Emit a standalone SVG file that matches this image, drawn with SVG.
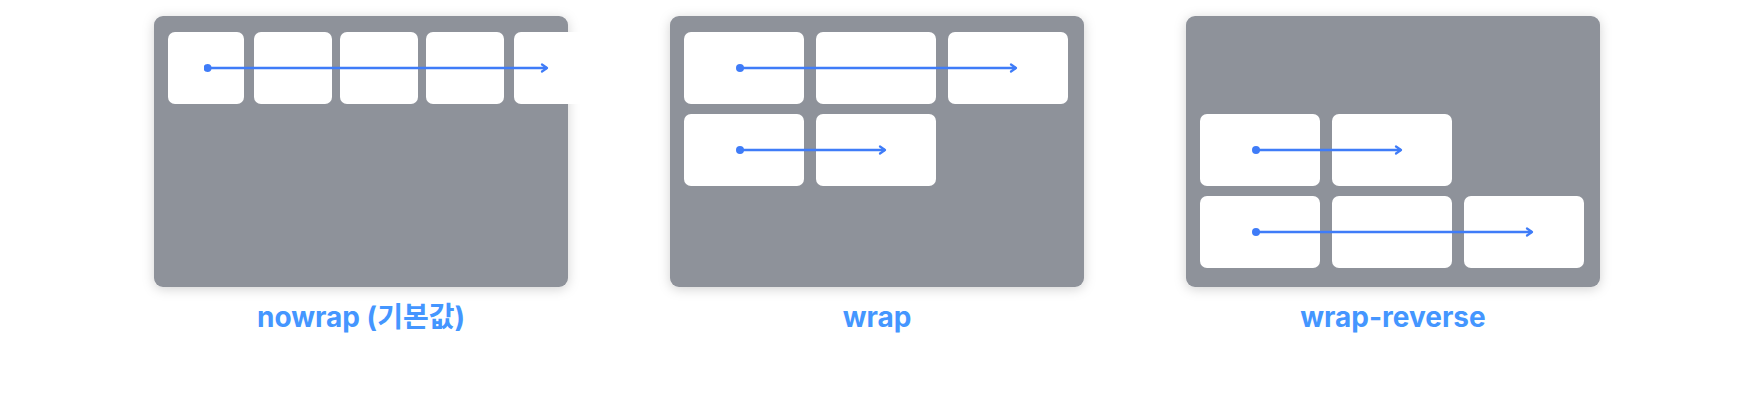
<svg xmlns="http://www.w3.org/2000/svg" width="1752" height="406" viewBox="0 0 1752 406">
<defs>
<filter id="sh" x="-10%" y="-10%" width="120%" height="125%">
<feDropShadow dx="0" dy="2" stdDeviation="6" flood-color="#000" flood-opacity="0.18"/>
</filter>
<marker id="ah" viewBox="0 0 10 10" refX="8" refY="5" markerWidth="10" markerHeight="10" markerUnits="userSpaceOnUse" orient="auto">
<path d="M3,1.5 L8,5 L3,8.5" fill="none" stroke="#3F7CF8" stroke-width="2.2" stroke-linecap="round" stroke-linejoin="round"/>
</marker>
<marker id="dot" viewBox="0 0 10 10" refX="5" refY="5" markerWidth="8" markerHeight="8" markerUnits="userSpaceOnUse">
<circle cx="5" cy="5" r="5" fill="#3F7CF8"/>
</marker>
</defs>
<style>
.box{fill:#8E929A;filter:url(#sh)}
.item{fill:#FFFFFF}
.arr{stroke:#3F7CF8;stroke-width:2.6;fill:none;marker-start:url(#dot);marker-end:url(#ah)}
.lbl{font-family:Inter,"Noto Sans CJK KR","Noto Sans",sans-serif;font-weight:700;font-size:28px;fill:#4496FF;text-anchor:middle}
</style>
<rect width="1752" height="406" fill="#FFFFFF"/>
<g id="nowrap">
<rect class="box" x="154" y="16" width="414" height="271" rx="9"/>
<rect class="item" x="168" y="32" width="76" height="72" rx="7"/>
<rect class="item" x="254" y="32" width="78" height="72" rx="7"/>
<rect class="item" x="340" y="32" width="78" height="72" rx="7"/>
<rect class="item" x="426" y="32" width="78" height="72" rx="7"/>
<rect class="item" x="514" y="32" width="78" height="72" rx="7"/>
<text class="lbl" x="361" y="327">nowrap (기본값)</text>
</g>
<g id="wrap">
<rect class="box" x="670" y="16" width="414" height="271" rx="9"/>
<rect class="item" x="684" y="32" width="120" height="72" rx="7"/>
<rect class="item" x="816" y="32" width="120" height="72" rx="7"/>
<rect class="item" x="948" y="32" width="120" height="72" rx="7"/>
<rect class="item" x="684" y="114" width="120" height="72" rx="7"/>
<rect class="item" x="816" y="114" width="120" height="72" rx="7"/>
<text class="lbl" x="877" y="327">wrap</text>
</g>
<g id="wrap-reverse">
<rect class="box" x="1186" y="16" width="414" height="271" rx="9"/>
<rect class="item" x="1200" y="114" width="120" height="72" rx="7"/>
<rect class="item" x="1332" y="114" width="120" height="72" rx="7"/>
<rect class="item" x="1200" y="196" width="120" height="72" rx="7"/>
<rect class="item" x="1332" y="196" width="120" height="72" rx="7"/>
<rect class="item" x="1464" y="196" width="120" height="72" rx="7"/>
<text class="lbl" x="1393" y="327">wrap-reverse</text>
</g>
<g id="connectors">
<path class="arr" d="M207.5,68 H547"/>
<path class="arr" d="M740,68 H1016"/>
<path class="arr" d="M740,150 H885"/>
<path class="arr" d="M1256,150 H1401"/>
<path class="arr" d="M1256,232 H1532"/>
</g>
</svg>
